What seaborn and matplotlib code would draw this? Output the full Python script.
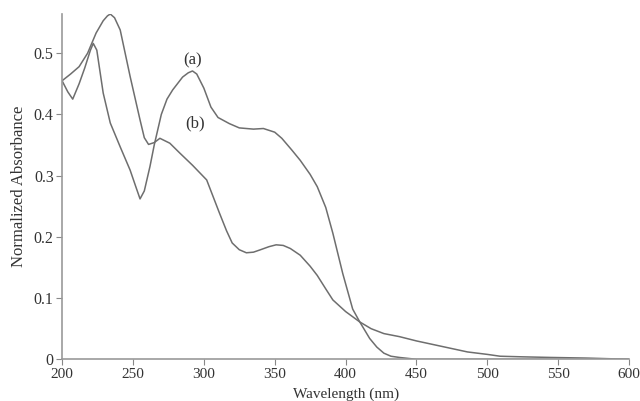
import matplotlib
matplotlib.use("Agg")
import matplotlib.pyplot as plt
import seaborn as sns
import pandas as pd

wl_a = [200, 204, 207.5, 212, 216, 220, 222, 224.5, 229, 234, 241, 248, 252, 255, 258, 262,
        265, 270, 274, 278, 282, 285, 289, 292, 295, 300, 305, 310, 318, 325, 335, 342,
        350, 355, 362, 368, 375, 380, 386, 391, 398, 405, 410, 417, 422, 427, 432, 438,
        450, 600]
abs_a = [0.455, 0.437, 0.425, 0.45, 0.476, 0.505, 0.516, 0.505, 0.435, 0.386, 0.347,
         0.309, 0.282, 0.262, 0.275, 0.315, 0.35, 0.40, 0.425, 0.44, 0.452, 0.461, 0.468,
         0.471, 0.466, 0.443, 0.412, 0.395, 0.385, 0.378, 0.376, 0.377, 0.371, 0.361,
         0.342, 0.325, 0.302, 0.282, 0.248, 0.206, 0.14, 0.082, 0.061, 0.034, 0.02, 0.01,
         0.005, 0.003, 0.0, 0.0]

wl_b = [200, 206, 212, 218, 224, 229, 232, 234, 237, 241, 248, 255, 258, 261, 265, 269,
        276, 283, 292, 302, 311, 316, 320, 325, 330, 335, 340, 346, 351, 356, 361, 368,
        375, 380, 386, 391, 400, 410, 418, 427, 438, 450, 462, 474, 486, 500, 509, 525,
        545, 570, 600]
abs_b = [0.455, 0.466, 0.478, 0.50, 0.533, 0.553, 0.561, 0.564, 0.558, 0.538, 0.462,
         0.391, 0.362, 0.351, 0.354, 0.361, 0.353, 0.337, 0.317, 0.293, 0.239, 0.21,
         0.19, 0.179, 0.174, 0.175, 0.179, 0.184, 0.187, 0.186, 0.181, 0.170, 0.152,
         0.137, 0.115, 0.097, 0.078, 0.061, 0.05, 0.042, 0.037, 0.03, 0.024, 0.018,
         0.012, 0.008, 0.005, 0.004, 0.003, 0.002, 0.0]

x_ticks = [200, 250, 300, 350, 400, 450, 500, 550, 600]
y_ticks = [0, 0.1, 0.2, 0.3, 0.4, 0.5]
y_tick_labels = ["0", "0.1", "0.2", "0.3", "0.4", "0.5"]

sns.set_style("ticks")
plt.rcParams["font.family"] = ["Liberation Serif", "DejaVu Serif"]

df = pd.concat([
    pd.DataFrame({"Wavelength": wl_a, "Absorbance": abs_a, "sample": "(a)"}),
    pd.DataFrame({"Wavelength": wl_b, "Absorbance": abs_b, "sample": "(b)"}),
])

fig = plt.figure(figsize=(6.4, 4.01), dpi=100)
ax = fig.add_axes([0.097, 0.104, 0.886, 0.861])
sns.lineplot(data=df, x="Wavelength", y="Absorbance", units="sample", estimator=None,
             color="#6e6e6e", linewidth=1.1, sort=False, ax=ax)

ax.set_xlim(200, 600)
ax.set_ylim(0, 0.564)
ax.set_xticks(x_ticks)
ax.set_xticklabels([str(t) for t in x_ticks])
ax.set_yticks(y_ticks)
ax.set_yticklabels(y_tick_labels)
ax.tick_params(axis="both", length=4, width=0.8, direction="out", pad=2,
               colors="#888888", labelcolor="#333333")
ax.tick_params(axis="x", labelsize=11)
ax.tick_params(axis="y", labelsize=11.5)
for s in ["top", "right"]:
    ax.spines[s].set_visible(False)
for s in ["left", "bottom"]:
    ax.spines[s].set_color("#999999")
    ax.spines[s].set_linewidth(1.2)

ax.set_xlabel("Wavelength (nm)", fontsize=11, color="#333333", labelpad=5)
ax.set_ylabel("Normalized Absorbance", fontsize=12, color="#333333", labelpad=5)

ax.text(291.7, 0.489, "(a)", fontsize=12, color="#333333", ha="center", va="center")
ax.text(293.8, 0.386, "(b)", fontsize=12, color="#333333", ha="center", va="center")

fig.savefig("out.png", dpi=100)
